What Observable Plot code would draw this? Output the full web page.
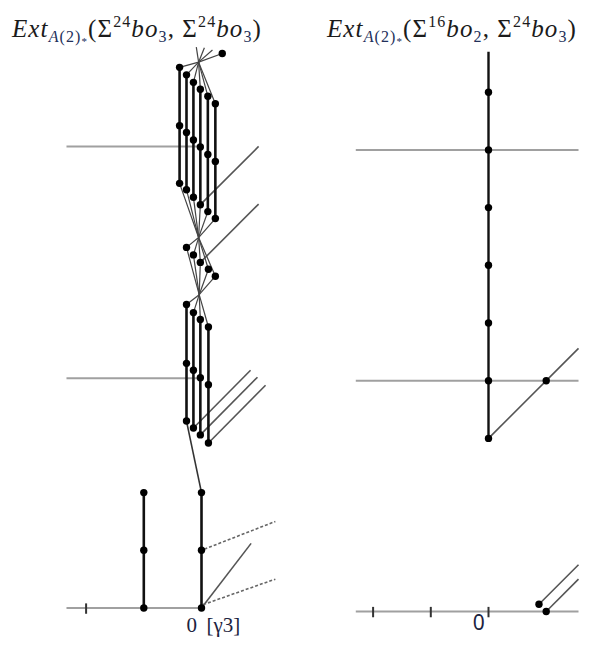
<!DOCTYPE html>
<html><head><meta charset="utf-8">
<script src="https://cdn.jsdelivr.net/npm/d3@7"></script>
<script src="https://cdn.jsdelivr.net/npm/@observablehq/plot@0.6"></script>
<style>
html,body{margin:0;padding:0;background:#fff;}
#wrap{position:relative;width:598px;height:652px;overflow:hidden;}
.panel{position:absolute;top:0;}
.title{position:absolute;top:16px;font-family:"Liberation Serif",serif;font-size:25px;line-height:26px;letter-spacing:1.1px;color:#1b1b1b;white-space:nowrap;}
.title sub{font-size:16px;vertical-align:-5px;line-height:0;color:#22305a;}
.title sup{font-size:16px;vertical-align:10px;line-height:0;}
.title sub sub{font-size:11px;vertical-align:-3px;}
</style></head>
<body><div id="wrap">
<div class="panel" id="left" style="left:0"></div>
<div class="panel" id="right" style="left:299px"></div>
<div class="title" id="t1" style="left:12px"><i>Ext</i><sub><i>A</i>(2)<sub>*</sub></sub>(Σ<sup>24</sup><i>bo</i><sub>3</sub>, Σ<sup>24</sup><i>bo</i><sub>3</sub>)</div>
<div class="title" id="t2" style="left:327px"><i>Ext</i><sub><i>A</i>(2)<sub>*</sub></sub>(Σ<sup>16</sup><i>bo</i><sub>2</sub>, Σ<sup>24</sup><i>bo</i><sub>3</sub>)</div>
</div>
<script>
// ---------- data (x = stem offset, s = filtration, in chart units) ----------
// left panel
const leftAxis = [-2.34, 0];
const leftTicks = [-2];
const leftGrayRows = [3.98, 8.0];
const leftGrayRowEnd = -0.02;
const lowCols = [-1, 0];
const lowS = [0, 1, 2];
const upperX = [-0.38, -0.26, -0.14, -0.02, 0.11, 0.24];
const upperTop = [9.37, 9.24, 9.11, 8.99, 8.87, 8.74];
const upperMid = [8.36, 8.24, 8.11, 7.99, 7.86, 7.74];
const upperBot = [7.36, 7.25, 7.12, 6.99, 6.87, 6.75];
const midX = [-0.26, -0.14, -0.02, 0.12, 0.24];
const midS = [6.25, 6.12, 5.99, 5.87, 5.75];
const lowX = [-0.26, -0.14, -0.02, 0.12];
const lowTop = [5.26, 5.12, 5.0, 4.87];
const lowMid = [4.24, 4.12, 3.99, 3.87];
const lowBot = [3.24, 3.12, 3.0, 2.86];
const hubTop = {x: -0.05, s: 9.46};
const hub1 = {x: -0.05, s: 6.42};
const hub2 = {x: -0.04, s: 5.43};
const sprayEnds = [{x: -0.09, s: 9.72}, {x: 0.05, s: 9.71}, {x: 0.19, s: 9.67}, {x: 0.36, s: 9.61}];
const sprayDot = [{x: 0.36, s: 9.61}];
const leftDiagonals = [
  {x1: -0.02, s1: 6.99, x2: 0.99, s2: 8.0},
  {x1: -0.02, s1: 5.99, x2: 0.99, s2: 7.0},
  {x1: -0.14, s1: 3.12, x2: 0.85, s2: 4.12},
  {x1: -0.02, s1: 3.0, x2: 0.97, s2: 4.0},
  {x1: 0.12, s1: 2.86, x2: 1.11, s2: 3.86},
  {x1: 0, s1: 0, x2: 0.86, s2: 1.12}
];
const leftLink = [{x1: 0, s1: 2, x2: -0.26, s2: 3.24}];
const leftDashed = [
  {x1: 0.03, s1: 0.06, x2: 1.28, s2: 0.5},
  {x1: 0.05, s1: 1.02, x2: 1.28, s2: 1.5}
];
const leftLabels = [{x: -0.17, s: -0.3, text: "0"}, {x: 0.38, s: -0.3, text: "[γ3]"}];

// right panel
const rightAxis = [-2.3, 1.56];
const rightTicks = [-2, -1, 0];
const rightGrayRows = [4.0, 8.0];
const rightTower = [3, 4, 5, 6, 7, 8, 9];
const rightTowerTop = 9.7;
const rightDiagonals = [
  {x1: 0, s1: 3, x2: 1.56, s2: 4.56},
  {x1: 0.875, s1: 0.125, x2: 1.56, s2: 0.81},
  {x1: 1.0, s1: 0.0, x2: 1.56, s2: 0.56}
];
const rightDots = [{x: 1, s: 4}, {x: 0.875, s: 0.125}, {x: 1.0, s: 0.0}];
const rightLabels = [{x: -0.17, s: -0.21, text: "0"}];

// ---------- drawing ----------
const U = 57.7, W = 299, H = 652;
function frame(originX, originY) {
  return {
    width: W, height: H, margin: 0,
    x: {domain: [-originX / U, (W - originX) / U], axis: null},
    y: {domain: [-(H - originY) / U, originY / U], axis: null},
    style: {background: "transparent", overflow: "visible"}
  };
}
const seg = (x1, s1, x2, s2) => ({x1, s1, x2, s2});
const link = (data, o) => Plot.link(data, {x1: "x1", y1: "s1", x2: "x2", y2: "s2", ...o});

// left
const grayL = [seg(leftAxis[0], 0, leftAxis[1], 0), ...leftGrayRows.map(s => seg(leftAxis[0], s, leftGrayRowEnd, s))];
const ticksL = leftTicks.map(x => seg(x, -0.1, x, 0.08));
const vertL = [
  ...lowCols.map(x => seg(x, lowS[0], x, lowS[lowS.length - 1])),
  ...upperX.map((x, i) => seg(x, upperBot[i], x, upperTop[i])),
  ...lowX.map((x, i) => seg(x, lowBot[i], x, lowTop[i]))
];
const fans = [
  ...upperX.map((x, i) => seg(x, upperTop[i], hubTop.x, hubTop.s)),
  ...sprayEnds.map(p => seg(hubTop.x, hubTop.s, p.x, p.s)),
  ...upperX.map((x, i) => seg(x, upperBot[i], hub1.x, hub1.s)),
  ...midX.map((x, i) => seg(hub1.x, hub1.s, x, midS[i])),
  ...midX.map((x, i) => seg(x, midS[i], hub2.x, hub2.s)),
  ...lowX.map((x, i) => seg(hub2.x, hub2.s, x, lowTop[i]))
];
const dotsL = [
  ...lowCols.flatMap(x => lowS.map(s => ({x, s}))),
  ...upperX.flatMap((x, i) => [upperTop[i], upperMid[i], upperBot[i]].map(s => ({x, s}))),
  ...midX.map((x, i) => ({x, s: midS[i]})),
  ...lowX.flatMap((x, i) => [lowTop[i], lowMid[i], lowBot[i]].map(s => ({x, s}))),
  ...sprayDot
];
const left = Plot.plot({
  ...frame(201, 607.5),
  marks: [
    link(grayL, {stroke: "#a0a0a0", strokeWidth: 2}),
    link(leftDiagonals, {stroke: "#555", strokeWidth: 1.6}),
    link(leftDashed, {stroke: "#666", strokeWidth: 1.6, strokeDasharray: "3,2"}),
    link(fans, {stroke: "#444", strokeWidth: 1.2}),
    link(leftLink, {stroke: "#333", strokeWidth: 1.6}),
    link(vertL, {stroke: "#111", strokeWidth: 2.6}),
    link(ticksL, {stroke: "#333", strokeWidth: 2}),
    Plot.dot(dotsL, {x: "x", y: "s", r: 3.7, fill: "#000"}),
    Plot.text(leftLabels, {x: "x", y: "s", text: "text", fontSize: 21, fontFamily: "Liberation Serif", fill: "#1c2340"})
  ]
});
document.getElementById("left").append(left);

// right
const grayR = [seg(rightAxis[0], 0, rightAxis[1], 0), ...rightGrayRows.map(s => seg(rightAxis[0], s, rightAxis[1], s))];
const ticksR = rightTicks.map(x => seg(x, -0.1, x, 0.08));
const vertR = [seg(0, rightTower[0], 0, rightTowerTop)];
const dotsR = [...rightTower.map(s => ({x: 0, s})), ...rightDots];
const right = Plot.plot({
  ...frame(189, 611),
  marks: [
    link(grayR, {stroke: "#a0a0a0", strokeWidth: 2}),
    link(rightDiagonals, {stroke: "#555", strokeWidth: 1.6}),
    link(vertR, {stroke: "#111", strokeWidth: 2.4}),
    link(ticksR, {stroke: "#333", strokeWidth: 2}),
    Plot.dot(dotsR, {x: "x", y: "s", r: 3.7, fill: "#000"}),
    Plot.text(rightLabels, {x: "x", y: "s", text: "text", fontSize: 21, fontFamily: "Noto Sans", fill: "#1c2340"})
  ]
});
document.getElementById("right").append(right);
</script>
</body></html>
